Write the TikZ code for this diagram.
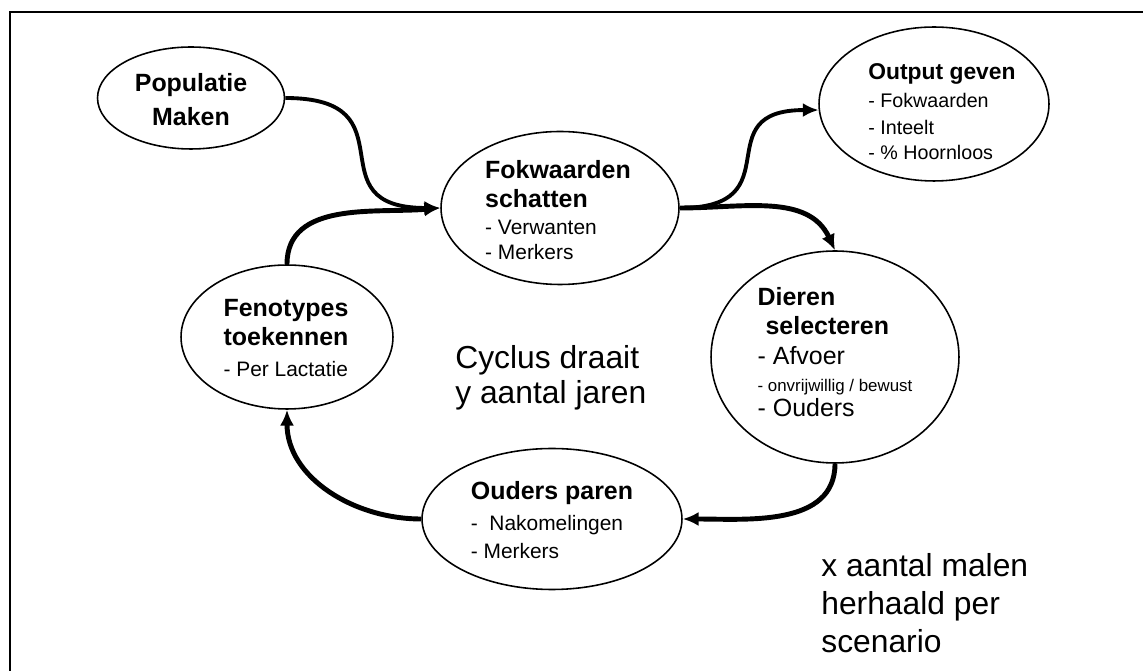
\documentclass[tikz,border=0pt]{standalone}
\usepackage{fontspec}
\setmainfont{Liberation Sans}
\usetikzlibrary{shapes.geometric,arrows.meta}

\newcommand\kop{\fontsize{14.2}{14.2}\selectfont\bfseries}
\newcommand\punt{\fontsize{11.9}{14.2}\selectfont\mdseries}

\begin{document}
\begin{tikzpicture}[x=0.02cm, y=-0.02cm]
  \tikzset{
    stap/.style={draw, ellipse, line width=0.9pt, inner sep=0pt},
    tekst/.style={inner sep=0pt, align=left, font=\fontsize{14.2}{14.2}\selectfont},
    dun/.style={line width=2.2pt, -{Latex[length=9pt,width=8pt]}},
    dik/.style={line width=2.8pt, -{Latex[length=9pt,width=8pt]}},
    kader/.style={line width=1.5pt},
  }

  \clip (0,0) rectangle (1143,671);

  % frame, only top and left side visible
  \draw[kader] (10,720) -- (10,12) -- (1200,12);

  % steps (ellipses)
  \node[stap, minimum width=3.74cm, minimum height=2.04cm] (pop) at (191,98) {};
  \node[stap, minimum width=4.76cm, minimum height=3.06cm] (fok) at (560,208) {};
  \node[stap, minimum width=4.6cm, minimum height=3.08cm] (output) at (934,104) {};
  \node[stap, minimum width=4.96cm, minimum height=4.24cm] (dieren) at (835,357) {};
  \node[stap, minimum width=4.24cm, minimum height=2.88cm] (feno) at (287,337) {};
  \node[stap, minimum width=5.2cm, minimum height=2.82cm] (ouders) at (552,519) {};

  % texts in the steps
  \node[tekst, align=center] (poptekst) at (191,100)
    {\kop Populatie\\[5.1pt]\kop Maken};
  \node[tekst] (foktekst) at (558,210)
    {\kop Fokwaarden\\[2.5pt]\kop schatten\\[1.1pt]\punt - Verwanten\\[0.2pt]\punt - Merkers};
  \node[tekst, font=\fontsize{13}{14.2}\selectfont] (outputtekst) at (942,112)
    {\bfseries Output geven\\[1.7pt]\fontsize{11.2}{14.2}\selectfont - Fokwaarden\\[1.1pt]
     \fontsize{11.2}{14.2}\selectfont - Inteelt\\\fontsize{11.2}{14.2}\selectfont - \% Hoornloos};
  \node[tekst] (dierentekst) at (835,352)
    {\kop Dieren\\[2.2pt]\kop\hspace{4.5pt}selecteren\\[2.8pt]\mdseries - Afvoer\\[1.1pt]
     \fontsize{9.6}{14.2}\selectfont - onvrijwillig / bewust\\\mdseries - Ouders};
  \node[tekst] (fenotekst) at (286,338)
    {\kop Fenotypes\\[2.5pt]\kop toekennen\\[3.4pt]\punt - Per Lactatie};
  \node[tekst] (ouderstekst) at (552,520)
    {\kop Ouders paren\\[3.4pt]\punt -\ \ Nakomelingen\\[1.7pt]\punt - Merkers};

  % loose texts
  \node[tekst, anchor=north west, font=\fontsize{18.1}{19.8}\selectfont] (cyclus) at (455,345)
    {Cyclus draait\\y aantal jaren};
  \node[tekst, anchor=north west, font=\fontsize{18.1}{21.8}\selectfont] (herhaal) at (821,553)
    {x aantal malen\\herhaald per\\scenario};

  % connectors
  \draw[dun] (pop.east) to[out=0, in=180, distance=2.6cm] (fok.west);
  \draw[dik] (feno.north) to[out=90, in=185] (fok.west);
  \draw[dun] (fok.east) to[out=0, in=180, distance=2.3cm] (output.183);
  \draw[dik] (fok.east) to[out=0, in=115] (dieren.north);
  \draw[dik] (dieren.south) to[out=-90, in=0] (ouders.east);
  \draw[dik] (ouders.west) to[out=180, in=-90] (feno.south);
\end{tikzpicture}
\end{document}
